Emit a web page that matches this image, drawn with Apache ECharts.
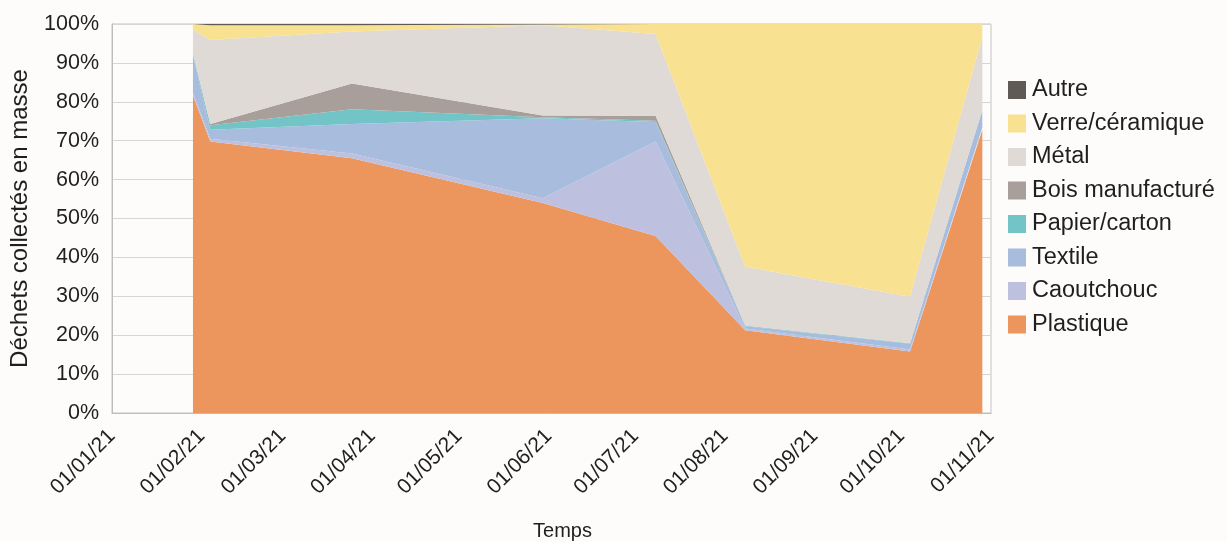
<!DOCTYPE html>
<html>
<head>
<meta charset="utf-8">
<script src="https://cdn.jsdelivr.net/npm/echarts@6/dist/echarts.min.js"></script>
<style>
html,body{margin:0;padding:0;background:#fdfcfa;}
#chart{width:1227px;height:542px;}
</style>
</head>
<body>
<div id="chart"></div>
<script>
// Sample dates (x positions of the stacked-area vertices)
const dates = ['2021-01-29','2021-02-04','2021-03-25','2021-05-30','2021-07-08','2021-08-08','2021-10-04','2021-10-29'];
// Axis range (tick labels are month starts, shown as dd/MM/yy)
const axisStart = '2021-01-01';
const axisEnd = '2021-11-01';
// Share of collected mass (%) per category
const plastique   = [81.7, 69.8, 65.5, 54.0, 45.5, 21.3, 15.8, 72.8];
const caoutchouc  = [0.5, 0.7, 1.2, 1.2, 24.3, 0.4, 0.5, 0.5];
const textile     = [9.8, 2.3, 7.6, 20.6, 5.0, 0.6, 1.5, 4.6];
const papier      = [0.5, 1.2, 3.8, 0.2, 0.3, 0.1, 0.1, 0.0];
const bois        = [0.0, 0.3, 6.6, 0.5, 1.3, 0.1, 0.0, 0.0];
const metal       = [6.0, 21.6, 13.4, 23.2, 21.0, 15.1, 12.0, 18.8];
const verre       = [1.5, 3.8, 1.6, 0.2, 2.6, 62.4, 70.1, 3.3];
const autre       = [0.0, 0.3, 0.3, 0.1, 0.0, 0.0, 0.0, 0.0];

const seriesDefs = [
  {name:'Plastique', data:plastique, color:'#EC965E'},
  {name:'Caoutchouc', data:caoutchouc, color:'#BDC0DF'},
  {name:'Textile', data:textile, color:'#A8BDDE'},
  {name:'Papier/carton', data:papier, color:'#72C4C7'},
  {name:'Bois manufacturé', data:bois, color:'#A89F9A'},
  {name:'Métal', data:metal, color:'#DFDAD6'},
  {name:'Verre/céramique', data:verre, color:'#F9E192'},
  {name:'Autre', data:autre, color:'#5F5A55'}
];

function parseLocal(s){const p=s.split('-').map(Number);return new Date(p[0],p[1]-1,p[2]).getTime();}
function pad(n){return (n<10?'0':'')+n;}

const chart = echarts.init(document.getElementById('chart'));
const font = 'Liberation Sans, Arial, sans-serif';
chart.setOption({
  backgroundColor:'#fdfcfa',
  animation:false,
  textStyle:{fontFamily:font,color:'#1f1f1f'},
  grid:{left:112,right:236,top:24,bottom:129,show:true,borderColor:'#c4c4c4',borderWidth:1,backgroundColor:'transparent',outerBoundsMode:'none',containLabel:false},
  legend:{
    orient:'vertical', left:1003, top:73,
    itemWidth:18, itemHeight:18, itemGap:9.5,
    icon:'rect',
    data:['Autre','Verre/céramique','Métal','Bois manufacturé','Papier/carton','Textile','Caoutchouc','Plastique'],
    textStyle:{fontSize:23.5,color:'#1f1f1f',fontFamily:font,lineHeight:24,padding:[0,0,0,1]}
  },
  xAxis:{
    type:'time',
    min:parseLocal(axisStart),
    max:parseLocal(axisEnd),
    splitNumber:10,
    name:'Temps', nameLocation:'middle', nameGap:108,
    nameTextStyle:{fontSize:20,color:'#1f1f1f',fontFamily:font,padding:[0,0,0,22]},
    axisLine:{show:true,lineStyle:{color:'#bdbdbd',width:1}},
    axisTick:{show:false},
    splitLine:{show:false},
    axisLabel:{
      rotate:45, fontSize:21, color:'#1f1f1f', fontFamily:font, margin:20,
      hideOverlap:false, showMinLabel:true, showMaxLabel:true,
      formatter:function(v){const d=new Date(v);return pad(d.getDate())+'/'+pad(d.getMonth()+1)+'/'+String(d.getFullYear()).slice(2);}
    }
  },
  yAxis:{
    type:'value', min:0, max:100, interval:10,
    name:'Déchets collectés en masse', nameLocation:'middle', nameGap:80,
    nameTextStyle:{fontSize:24,color:'#1f1f1f',fontFamily:font},
    axisLine:{show:true,lineStyle:{color:'#bdbdbd'}},
    axisTick:{show:false},
    splitLine:{show:true,lineStyle:{color:'#d6d6d6',width:1}},
    axisLabel:{formatter:'{value}%',fontSize:21.5,color:'#1f1f1f',fontFamily:font,margin:13}
  },
  series:seriesDefs.map(s=>({
    name:s.name, type:'line', stack:'total',
    data:dates.map((d,i)=>[parseLocal(d), s.data[i]]),
    symbol:'none', showSymbol:false,
    color:s.color,
    itemStyle:{color:s.color},
    lineStyle:{width:0,color:s.color},
    areaStyle:{color:s.color,opacity:1}
  }))
});
</script>
</body>
</html>
